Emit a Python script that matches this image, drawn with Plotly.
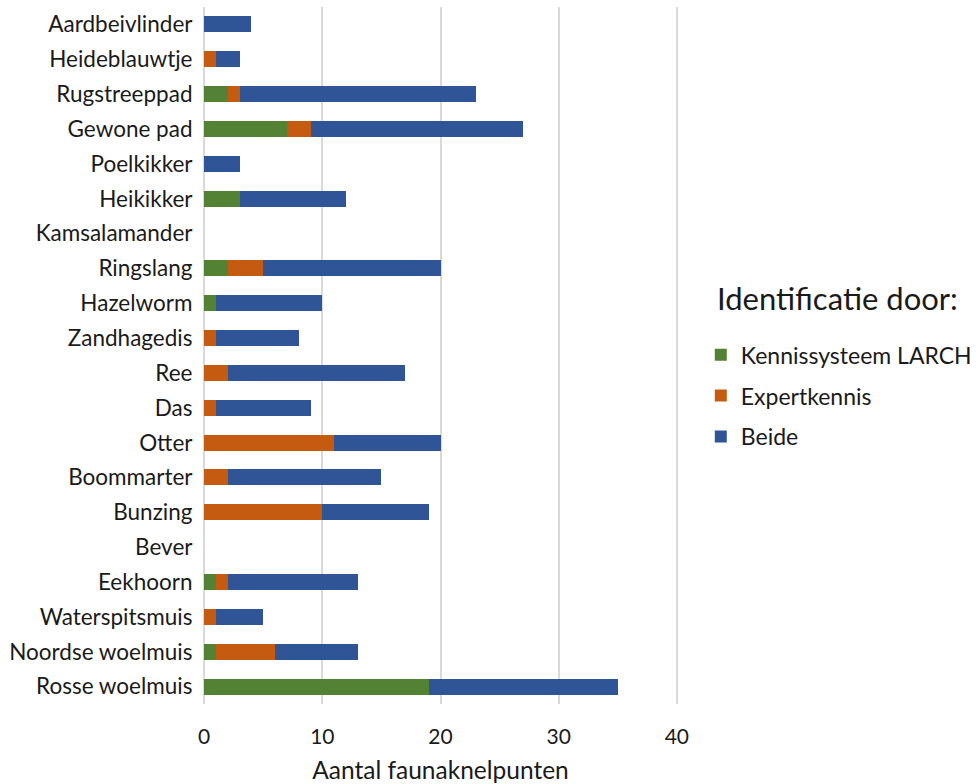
import plotly.graph_objects as go

categories = ["Aardbeivlinder", "Heideblauwtje", "Rugstreeppad", "Gewone pad", "Poelkikker",
              "Heikikker", "Kamsalamander", "Ringslang", "Hazelworm", "Zandhagedis", "Ree", "Das",
              "Otter", "Boommarter", "Bunzing", "Bever", "Eekhoorn", "Waterspitsmuis",
              "Noordse woelmuis", "Rosse woelmuis"]
larch = [0, 0, 2, 7, 0, 3, 0, 2, 1, 0, 0, 0, 0, 0, 0, 0, 1, 0, 1, 19]
expert = [0, 1, 1, 2, 0, 0, 0, 3, 0, 1, 2, 1, 11, 2, 10, 0, 1, 1, 5, 0]
beide = [4, 2, 20, 18, 3, 9, 0, 15, 9, 7, 15, 8, 9, 13, 9, 0, 11, 4, 7, 16]

series = [("Kennissysteem LARCH", larch, "#548235"),
          ("Expertkennis", expert, "#C55A11"),
          ("Beide", beide, "#2F5597")]

fig = go.Figure()
for name, vals, col in series:
    fig.add_trace(go.Bar(y=categories, x=vals, name=name, orientation="h", legendgroup=name,
                         marker=dict(color=col, line=dict(width=0))))

font = "Lato"
fig.update_layout(
    barmode="stack",
    bargap=0.54,
    width=980, height=784,
    margin=dict(l=203, r=302, t=7, b=80, pad=0, autoexpand=False),
    plot_bgcolor="white", paper_bgcolor="white",
    font=dict(family=font, size=22, color="#1a1a1a"),
    legend=dict(x=1.048, xanchor="left", y=0.532, yanchor="top",
                font=dict(size=23), itemwidth=30, tracegroupgap=8,
                traceorder="grouped"),
    annotations=[dict(text="Identificatie door:", xref="paper", yref="paper",
                      x=1.077, y=0.583, xanchor="left", yanchor="middle",
                      showarrow=False, font=dict(size=31))],
    xaxis=dict(range=[-0.1, 40.1], dtick=10, showgrid=True, gridcolor="#d9d9d9", gridwidth=1.5,
               zeroline=False, showline=False, ticks="outside", ticklen=14,
               tickcolor="rgba(0,0,0,0)",
               tickfont=dict(size=21),
               title=dict(text="Aantal faunaknelpunten", font=dict(size=24.5), standoff=16)),
    yaxis=dict(categoryorder="array", categoryarray=categories[::-1],
               range=[-0.5, 19.5], showgrid=False, zeroline=False, showline=False,
               ticks="outside", ticklen=5, tickcolor="rgba(0,0,0,0)", tickfont=dict(size=22.5)),
)
fig.write_html("out.html")
